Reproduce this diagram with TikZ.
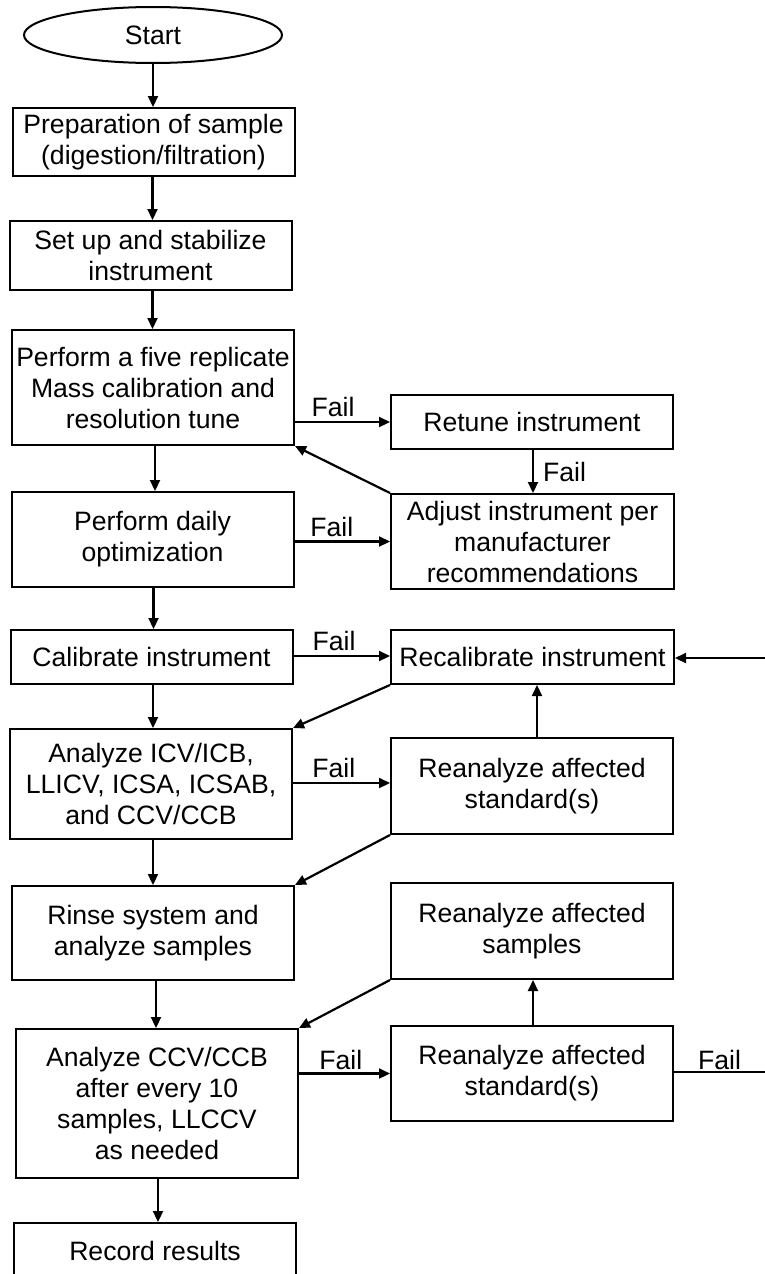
\documentclass[tikz,border=0pt]{standalone}
\usepackage{fontspec}
\setmainfont{Liberation Sans}
\usetikzlibrary{arrows.meta,shapes.geometric}
\tikzset{
  box/.style={draw, line width=2pt, rectangle, inner sep=0pt, align=center,
    minimum width=282pt, font=\fontsize{26.6}{31}\selectfont},
  oval/.style={draw, line width=2pt, ellipse, inner sep=0pt,
    minimum width=258pt, minimum height=56pt, font=\fontsize{26.6}{31}\selectfont},
  arr/.style={line width=2.2pt, -{Triangle[length=11pt,width=10pt]}},
  plain/.style={line width=2.2pt},
  lbl/.style={inner sep=0pt, font=\fontsize{26.6}{31}\selectfont}
}
\begin{document}
\begin{tikzpicture}[x=1pt,y=-1pt]
\useasboundingbox (0,0) rectangle (765,1274);
\clip (0,0) rectangle (765,1274);
% left column
\node[oval] (start) at (153,35) {Start};
\node[box, minimum height=68pt] (prep) at (153.5,142) {Preparation of sample\\(digestion/filtration)};
\node[box, minimum height=69pt] (setup) at (150.5,255.5) {Set up and stabilize\\instrument};
\node[box, minimum height=115pt] (tune) at (153,387.5) {Perform a five replicate\\Mass calibration and\\resolution tune};
\node[box, minimum height=95pt] (daily) at (152.5,539.5) {Perform daily\\optimization};
\node[box, minimum height=54pt] (calib) at (151.5,657) {Calibrate instrument};
\node[box, minimum height=110pt] (icv) at (151,784) {Analyze ICV/ICB,\\LLICV, ICSA, ICSAB,\\and CCV/CCB};
\node[box, minimum height=94pt] (rinse) at (153,933) {Rinse system and\\analyze samples};
\node[box, minimum height=149pt] (ccv) at (157,1103.5) {Analyze CCV/CCB\\after every 10\\samples, LLCCV\\as needed};
\node[box, minimum height=55pt] (rec) at (155,1250.5) {Record results};
% right column
\node[box, minimum height=54pt] (retune) at (532,422) {Retune instrument};
\node[box, minimum height=95pt, minimum width=283pt] (adjust) at (532.5,541.5) {Adjust instrument per\\manufacturer\\recommendations};
\node[box, minimum height=54pt, minimum width=283pt] (recal) at (532.5,657) {Recalibrate instrument};
\node[box, minimum height=96pt] (std1) at (532,786) {Reanalyze affected\\standard(s)};
\node[box, minimum height=96pt] (samp) at (532,931) {Reanalyze affected\\samples};
\node[box, minimum height=95pt] (std2) at (532,1073.5) {Reanalyze affected\\standard(s)};
\coordinate (rin) at (765,658);
\coordinate (rout) at (765,1072);
% main flow
\draw[arr] (start.south) -- (start.south |- prep.north);
\draw[arr] ([xshift=-1pt]prep.south) -- ([xshift=-1pt]prep.south |- setup.north);
\draw[arr] ([xshift=2pt]setup.south) -- ([xshift=2pt]setup.south |- tune.north);
\draw[arr] ([xshift=2pt]tune.south) -- ([xshift=2pt]tune.south |- daily.north);
\draw[arr] ([xshift=1pt]daily.south) -- ([xshift=1pt]daily.south |- calib.north);
\draw[arr] ([xshift=1.5pt]calib.south) -- ([xshift=1.5pt]calib.south |- icv.north);
\draw[arr] ([xshift=2pt]icv.south) -- ([xshift=2pt]icv.south |- rinse.north);
\draw[arr] ([xshift=3pt]rinse.south) -- ([xshift=3pt]rinse.south |- ccv.north);
\draw[arr] ([xshift=1pt]ccv.south) -- ([xshift=1pt]ccv.south |- rec.north);
% fail branches
\draw[arr] (tune.east |- retune.west) -- node[lbl, pos=0.40, above=4pt] {Fail} (retune.west);
\draw[arr] ([xshift=1pt]retune.south) -- node[lbl, midway, right=9pt] {Fail} ([xshift=1pt]retune.south |- adjust.north);
\draw[arr] (adjust.north west) -- (tune.south east);
\draw[arr] (daily.east |- adjust.west) -- node[lbl, pos=0.39, above=4pt] {Fail} (adjust.west);
\draw[arr] ([yshift=1pt]calib.east) -- node[lbl, pos=0.42, above=4pt] {Fail} ([yshift=1pt]recal.west);
\draw[arr] (rin) -- (rin -| recal.east);
\draw[arr] (recal.south west) -- (icv.north east);
\draw[arr] ([yshift=1pt]icv.east) -- node[lbl, pos=0.42, above=4pt] {Fail} ([yshift=1pt]icv.east -| std1.west);
\draw[arr] ([xshift=5pt]std1.north) -- ([xshift=5pt]std1.north |- recal.south);
\draw[arr] (std1.south west) -- (rinse.north east);
\draw[arr] (samp.south west) -- (ccv.north east);
\draw[arr] ([xshift=1pt]std2.north) -- ([xshift=1pt]std2.north |- samp.south);
\draw[arr] (ccv.east |- std2.west) -- node[lbl, pos=0.46, above=3pt] {Fail} (std2.west);
\draw[plain] (std2.east |- rout) -- node[lbl, pos=0.5, above=1pt] {Fail} (rout);
\end{tikzpicture}
\end{document}
